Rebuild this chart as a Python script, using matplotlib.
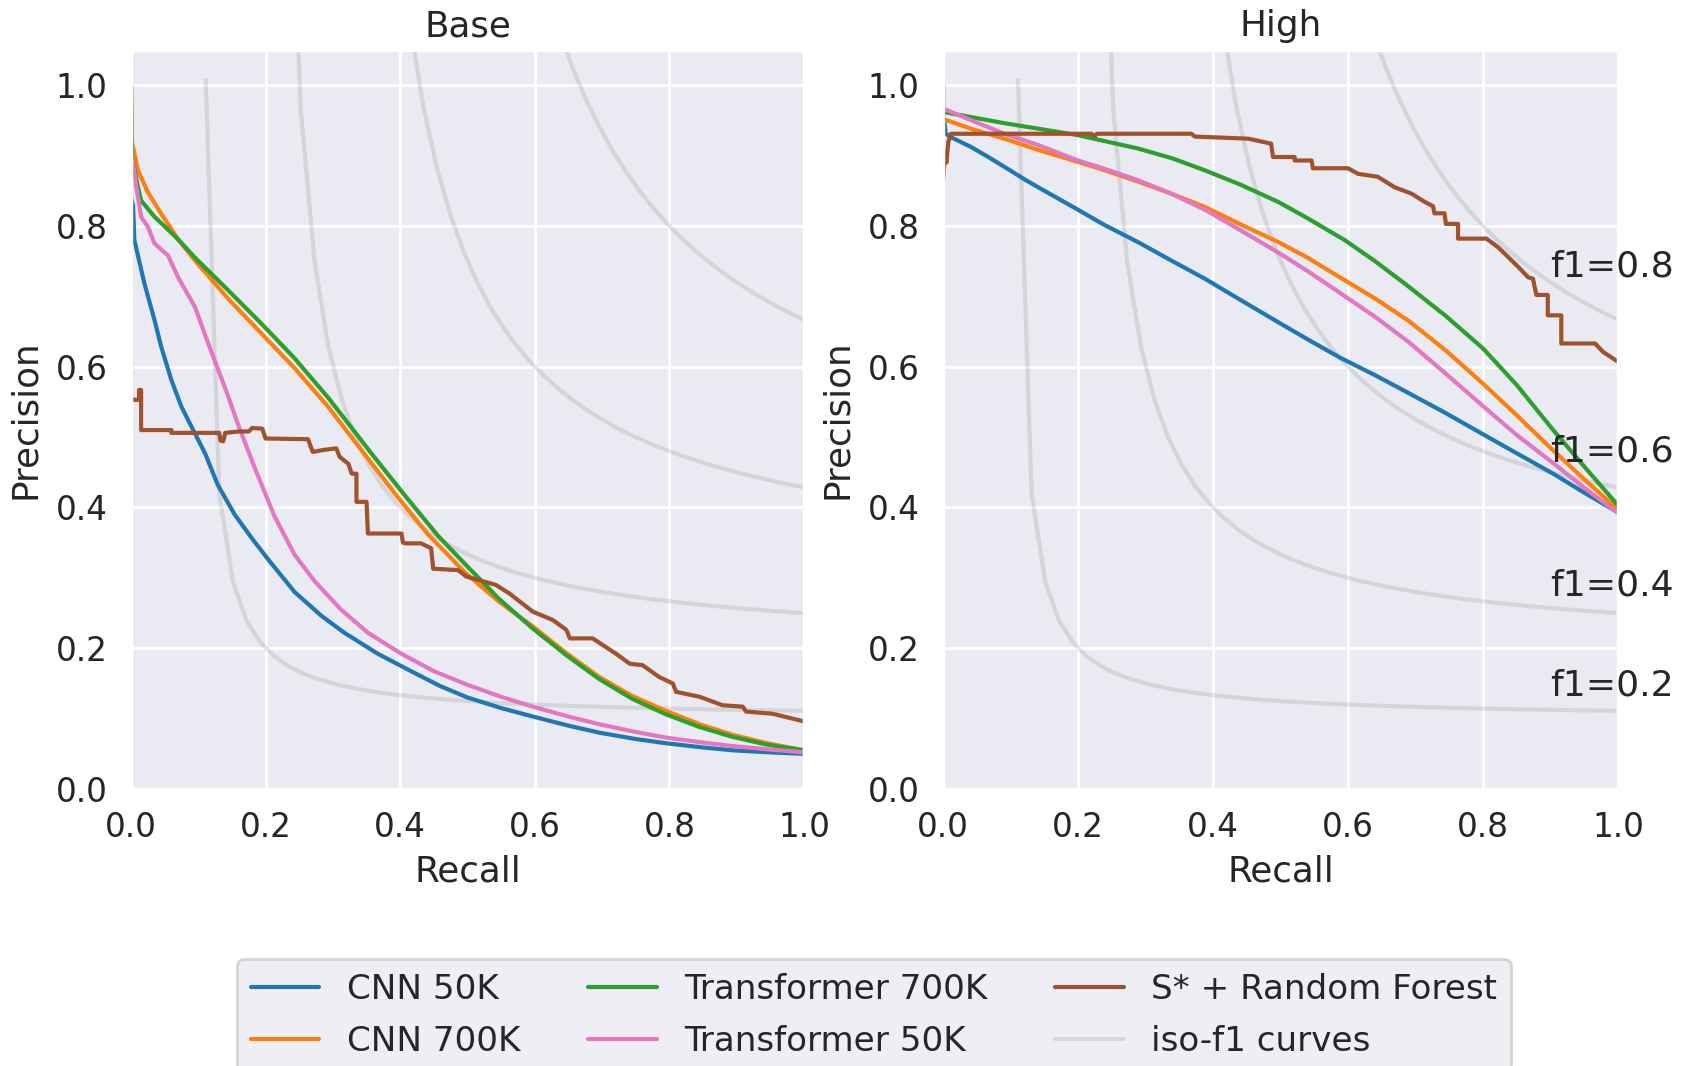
"""
Precision-recall curves, Base vs High
with iso-f1 reference curves
"""

import numpy as np
import matplotlib
matplotlib.use("Agg")
import matplotlib.pyplot as plt
import seaborn as sns

# ==========================================
# Data
# ==========================================

panel_titles = ["Base", "High"]
model_labels = ["CNN 50K", "CNN 700K", "Transformer 700K", "Transformer 50K", "S* + Random Forest"]
model_colors = ["#1f77b4", "#ff7f0e", "#2ca02c", "#e377c2", "#a0522d"]
f_scores = [0.2, 0.4, 0.6, 0.8]
ticks = [0.0, 0.2, 0.4, 0.6, 0.8, 1.0]

# --- Base ---
base_cnn50k_recall = [0, 0, 0.003, 0.005, 0.02, 0.035, 0.045, 0.06, 0.075, 0.085, 0.11, 0.129, 0.154,
                      0.179, 0.204, 0.243, 0.283, 0.317, 0.367, 0.417, 0.46, 0.5, 0.55, 0.597, 0.65, 0.696,
                      0.75, 0.795, 0.85, 0.894, 0.95, 1.0]
base_cnn50k_precision = [1.0, 0.84, 0.83, 0.78, 0.718, 0.666, 0.628, 0.581, 0.543, 0.524, 0.477, 0.432, 0.39,
                         0.357, 0.326, 0.28, 0.246, 0.222, 0.192, 0.167, 0.146, 0.13, 0.115, 0.103, 0.09, 0.08,
                         0.071, 0.065, 0.059, 0.055, 0.052, 0.05]

base_cnn700k_recall = [0, 0.0015, 0.0104, 0.025, 0.045, 0.07, 0.095, 0.144, 0.194, 0.243, 0.293, 0.342, 0.392,
                       0.441, 0.498, 0.547, 0.597, 0.647, 0.696, 0.745, 0.795, 0.845, 0.894, 0.945, 1.0]
base_cnn700k_precision = [1.0, 0.919, 0.879, 0.848, 0.817, 0.781, 0.751, 0.697, 0.647, 0.598, 0.543, 0.482, 0.42,
                          0.362, 0.306, 0.266, 0.231, 0.193, 0.159, 0.132, 0.111, 0.092, 0.077, 0.065, 0.055]

base_tr700k_recall = [0, 0.0015, 0.0104, 0.015, 0.035, 0.07, 0.095, 0.144, 0.194, 0.243, 0.293, 0.332, 0.357,
                      0.407, 0.456, 0.5, 0.547, 0.597, 0.647, 0.696, 0.745, 0.795, 0.845, 0.894, 0.945, 1.0]
base_tr700k_precision = [1.0, 0.898, 0.855, 0.836, 0.813, 0.781, 0.755, 0.709, 0.661, 0.612, 0.556, 0.508, 0.477,
                         0.417, 0.36, 0.316, 0.27, 0.228, 0.19, 0.156, 0.128, 0.106, 0.088, 0.074, 0.063, 0.055]

base_tr50k_recall = [0, 0, 0.003, 0.008, 0.015, 0.025, 0.035, 0.055, 0.07, 0.095, 0.114, 0.129, 0.144, 0.159,
                     0.184, 0.213, 0.243, 0.273, 0.312, 0.352, 0.402, 0.451, 0.5, 0.55, 0.597, 0.65, 0.696,
                     0.75, 0.795, 0.85, 0.894, 0.95, 1.0]
base_tr50k_precision = [1.0, 0.9, 0.889, 0.855, 0.813, 0.799, 0.775, 0.758, 0.727, 0.685, 0.635, 0.597, 0.559, 0.518,
                        0.456, 0.388, 0.333, 0.295, 0.255, 0.222, 0.192, 0.167, 0.148, 0.131, 0.117, 0.103, 0.092,
                        0.081, 0.073, 0.066, 0.061, 0.056, 0.052]

base_rf_recall = [0, 0, 0.012, 0.012, 0.015, 0.015, 0.06, 0.06, 0.131, 0.133, 0.137, 0.14, 0.16, 0.175, 0.18,
                  0.195, 0.2, 0.263, 0.27, 0.288, 0.305, 0.31, 0.323, 0.328, 0.335, 0.335, 0.35, 0.352, 0.402,
                  0.404, 0.409, 0.431, 0.446, 0.449, 0.486, 0.498, 0.542, 0.562, 0.597, 0.627, 0.647, 0.652,
                  0.686, 0.721, 0.741, 0.76, 0.785, 0.805, 0.81, 0.845, 0.879, 0.909, 0.914, 0.953, 1.0]
base_rf_precision = [1.0, 0.553, 0.553, 0.567, 0.567, 0.51, 0.51, 0.506, 0.506, 0.495, 0.494, 0.506, 0.508, 0.508,
                     0.513, 0.512, 0.498, 0.497, 0.479, 0.482, 0.484, 0.472, 0.462, 0.448, 0.448, 0.408, 0.408,
                     0.363, 0.363, 0.35, 0.349, 0.349, 0.342, 0.313, 0.311, 0.302, 0.29, 0.278, 0.252, 0.24,
                     0.226, 0.214, 0.214, 0.192, 0.178, 0.176, 0.159, 0.15, 0.138, 0.131, 0.119, 0.117, 0.11,
                     0.107, 0.096]

# --- High ---
high_cnn50k_recall = [0, 0, 0.002, 0.004, 0.012, 0.042, 0.067, 0.091, 0.121, 0.141, 0.2, 0.24, 0.289, 0.338,
                      0.388, 0.437, 0.497, 0.54, 0.588, 0.64, 0.687, 0.745, 0.8, 0.85, 0.904, 0.95, 1.0]
high_cnn50k_precision = [1.0, 0.95, 0.95, 0.931, 0.926, 0.912, 0.898, 0.884, 0.866, 0.855, 0.823, 0.801, 0.777,
                         0.751, 0.725, 0.697, 0.663, 0.639, 0.613, 0.588, 0.564, 0.534, 0.504, 0.477, 0.448,
                         0.421, 0.393]

high_cnn700k_recall = [0, 0, 0.042, 0.091, 0.141, 0.2, 0.24, 0.289, 0.338, 0.388, 0.437, 0.497, 0.54, 0.588,
                       0.64, 0.69, 0.745, 0.8, 0.85, 0.904, 0.95, 1.0]
high_cnn700k_precision = [1.0, 0.952, 0.938, 0.924, 0.908, 0.891, 0.879, 0.863, 0.846, 0.827, 0.804, 0.777,
                          0.755, 0.727, 0.697, 0.665, 0.623, 0.576, 0.531, 0.481, 0.44, 0.397]

high_tr700k_recall = [0, 0, 0.091, 0.2, 0.289, 0.34, 0.388, 0.44, 0.497, 0.54, 0.595, 0.64, 0.687, 0.745,
                      0.8, 0.85, 0.904, 0.951, 1.0]
high_tr700k_precision = [1.0, 0.962, 0.946, 0.929, 0.91, 0.896, 0.879, 0.859, 0.834, 0.811, 0.78, 0.75, 0.716,
                         0.672, 0.626, 0.574, 0.51, 0.457, 0.403]

high_tr50k_recall = [0, 0, 0.042, 0.091, 0.141, 0.2, 0.24, 0.289, 0.338, 0.388, 0.437, 0.497, 0.54, 0.588,
                     0.64, 0.69, 0.745, 0.8, 0.85, 0.904, 0.95, 1.0]
high_tr50k_precision = [1.0, 0.967, 0.95, 0.931, 0.915, 0.893, 0.881, 0.865, 0.846, 0.823, 0.796, 0.762, 0.736,
                        0.705, 0.671, 0.635, 0.59, 0.544, 0.503, 0.463, 0.428, 0.392]

high_rf_recall = [0, 0, 0.003, 0.005, 0.008, 0.012, 0.22, 0.224, 0.228, 0.368, 0.373, 0.452, 0.486, 0.489,
                  0.521, 0.521, 0.546, 0.548, 0.6, 0.615, 0.644, 0.669, 0.694, 0.714, 0.726, 0.728, 0.743,
                  0.745, 0.763, 0.763, 0.805, 0.822, 0.835, 0.852, 0.867, 0.874, 0.879, 0.896, 0.896, 0.916,
                  0.916, 0.966, 0.978, 1.0]
high_rf_precision = [1.0, 0.865, 0.905, 0.89, 0.92, 0.931, 0.931, 0.927, 0.931, 0.931, 0.927, 0.924, 0.917,
                     0.898, 0.898, 0.893, 0.893, 0.882, 0.882, 0.874, 0.87, 0.855, 0.846, 0.834, 0.828, 0.818,
                     0.818, 0.803, 0.803, 0.782, 0.782, 0.77, 0.758, 0.742, 0.727, 0.725, 0.702, 0.702, 0.673,
                     0.673, 0.633, 0.633, 0.621, 0.607]

base_curves = [
    (base_cnn50k_recall, base_cnn50k_precision),
    (base_cnn700k_recall, base_cnn700k_precision),
    (base_tr700k_recall, base_tr700k_precision),
    (base_tr50k_recall, base_tr50k_precision),
    (base_rf_recall, base_rf_precision),
]
high_curves = [
    (high_cnn50k_recall, high_cnn50k_precision),
    (high_cnn700k_recall, high_cnn700k_precision),
    (high_tr700k_recall, high_tr700k_precision),
    (high_tr50k_recall, high_tr50k_precision),
    (high_rf_recall, high_rf_precision),
]

# ==========================================
# Style
# ==========================================

sns.set_theme(style="darkgrid")
plt.rcParams["font.family"] = ["DejaVu Sans"]
plt.rcParams["xtick.labelsize"] = 11.8
plt.rcParams["ytick.labelsize"] = 11.8
plt.rcParams["xtick.major.pad"] = 1.8
plt.rcParams["ytick.major.pad"] = 2.4
plt.rcParams["axes.labelsize"] = 12.9
plt.rcParams["axes.titlesize"] = 12.9

fig = plt.figure(figsize=(8.48, 5.33), dpi=200)

W, H = 1696, 1066
ax_base = fig.add_axes([131 / W, 1 - 789 / H, 673 / W, 739 / H])
ax_high = fig.add_axes([943 / W, 1 - 789 / H, 675 / W, 739 / H])

# ==========================================
# Plot
# ==========================================

for ax, title, curves in [
    (ax_base, panel_titles[0], base_curves),
    (ax_high, panel_titles[1], high_curves),
]:
    # iso-f1 reference lines
    for f_score in f_scores:
        x = np.linspace(0.01, 1)
        y = f_score * x / (2 * x - f_score)
        iso_line, = ax.plot(x[y >= 0], y[y >= 0], color="gray", alpha=0.2, linewidth=1.5)
        if ax is ax_high:
            ax.annotate(
                f"f1={f_score:0.1f}",
                xy=(0.9, y[45] + 0.02),
                fontsize=13,
                color="0.15",
                annotation_clip=False,
            )

    handles = []
    for (rec, prec), label, color in zip(curves, model_labels, model_colors):
        line, = ax.plot(rec, prec, color=color, linewidth=1.5, label=label)
        handles.append(line)

    ax.set_xlim(0.0, 1.0)
    ax.set_ylim(0.0, 1.05)
    ax.set_xticks(ticks)
    ax.set_yticks(ticks)
    ax.set_xlabel("Recall", labelpad=4)
    ax.set_ylabel("Precision", labelpad=5)
    ax.set_title(title, pad=5)

handles.append(iso_line)
labels = model_labels + ["iso-f1 curves"]

fig.legend(
    handles,
    labels,
    loc="upper center",
    bbox_to_anchor=(874 / W, 1 - 942 / H),
    ncol=3,
    fontsize=12.3,
    labelspacing=0.55,
    frameon=True,
)

fig.savefig("out.png", dpi=200)
